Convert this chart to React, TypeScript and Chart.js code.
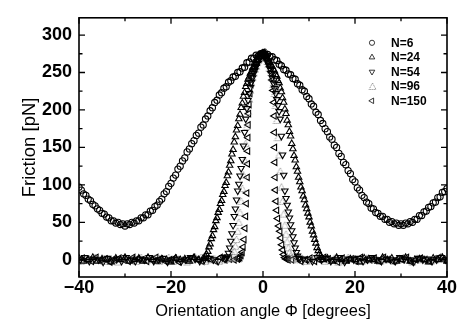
import React, { useEffect, useRef } from 'react';
import { Chart, registerables } from 'chart.js';

Chart.register(...registerables);

// ---------------- data ----------------
const seriesNames = ['N=6', 'N=24', 'N=54', 'N=96', 'N=150'];

const anglesN6 = [
  -40, -39.5, -39, -38.5, -38, -37.5, -37, -36.5, -36, -35.5,
  -35, -34.5, -34, -33.5, -33, -32.5, -32, -31.5, -31, -30.5,
  -30, -29.5, -29, -28.5, -28, -27.5, -27, -26.5, -26, -25.5,
  -25, -24.5, -24, -23.5, -23, -22.5, -22, -21.5, -21, -20.5,
  -20, -19.5, -19, -18.5, -18, -17.5, -17, -16.5, -16, -15.5,
  -15, -14.5, -14, -13.5, -13, -12.5, -12, -11.5, -11, -10.5,
  -10, -9.5, -9, -8.5, -8, -7.5, -7, -6.5, -6, -5.5,
  -5, -4.5, -4, -3.5, -3, -2.5, -2, -1.5, -1, -0.5,
  0,
  0.5, 1, 1.5, 2, 2.5, 3, 3.5, 4, 4.5, 5,
  5.5, 6, 6.5, 7, 7.5, 8, 8.5, 9, 9.5, 10,
  10.5, 11, 11.5, 12, 12.5, 13, 13.5, 14, 14.5, 15,
  15.5, 16, 16.5, 17, 17.5, 18, 18.5, 19, 19.5, 20,
  20.5, 21, 21.5, 22, 22.5, 23, 23.5, 24, 24.5, 25,
  25.5, 26, 26.5, 27, 27.5, 28, 28.5, 29, 29.5, 30,
  30.5, 31, 31.5, 32, 32.5, 33, 33.5, 34, 34.5, 35,
  35.5, 36, 36.5, 37, 37.5, 38, 38.5, 39, 39.5, 40,
];
const frictionN6 = [
  97, 93, 88, 86, 81, 79, 74, 72, 68, 66,
  62, 61, 57, 56, 52, 52, 49, 50, 47, 48,
  45, 48, 47, 50, 49, 52, 52, 56, 56, 60,
  60, 65, 66, 71, 73, 78, 81, 88, 91, 98,
  102, 109, 113, 121, 125, 132, 136, 144, 148, 155,
  159, 166, 169, 177, 180, 188, 192, 199, 203, 210,
  213, 220, 223, 229, 231, 237, 239, 244, 245, 250,
  251, 256, 257, 263, 264, 269, 269, 273, 272, 275,
  276,
  273, 274, 271, 271, 267, 266, 261, 259, 254, 253,
  248, 247, 242, 241, 235, 233, 227, 225, 218, 215,
  208, 205, 197, 194, 186, 182, 175, 171, 164, 161,
  153, 150, 142, 138, 130, 127, 119, 115, 107, 104,
  96, 93, 86, 83, 77, 75, 69, 68, 63, 62,
  58, 58, 54, 54, 50, 51, 48, 49, 46, 48,
  46, 49, 48, 51, 50, 54, 54, 59, 59, 64,
  65, 70, 71, 76, 77, 83, 84, 90, 91, 95,
];

const anglesN24 = [
  -40, -39, -38, -37, -36, -35, -34, -33, -32, -31, -30, -29, -28, -27,
  -26, -25, -24, -23, -22, -21, -20, -19, -18, -17, -16, -15, -14, -13,
  -12.75, -12.5, -12.25, -12, -11.75, -11.5, -11.25, -11, -10.75, -10.5,
  -10.25, -10, -9.75, -9.5, -9.25, -9, -8.75, -8.5, -8.25, -8,
  -7.75, -7.5, -7.25, -7, -6.75, -6.5, -6.25, -6, -5.75, -5.5,
  -5.25, -5, -4.75, -4.5, -4.25, -4, -3.75, -3.5, -3.25, -3,
  -2.75, -2.5, -2.25, -2, -1.75, -1.5, -1.25, -1, -0.75, -0.5,
  -0.25, 0,
  0.25, 0.5, 0.75, 1, 1.25, 1.5, 1.75, 2, 2.25, 2.5,
  2.75, 3, 3.25, 3.5, 3.75, 4, 4.25, 4.5, 4.75, 5,
  5.25, 5.5, 5.75, 6, 6.25, 6.5, 6.75, 7, 7.25, 7.5,
  7.75, 8, 8.25, 8.5, 8.75, 9, 9.25, 9.5, 9.75, 10,
  10.25, 10.5, 10.75, 11, 11.25, 11.5, 11.75, 12, 12.25, 12.5,
  12.75,
  13, 14, 15, 16, 17, 18, 19, 20, 21, 22, 23, 24, 25, 26,
  27, 28, 29, 30, 31, 32, 33, 34, 35, 36, 37, 38, 39, 40,
];
const frictionN24 = [
  2, -2, 0, 3, -2, 1, 0, -3, 2, 0, 3, -2, 0, 2,
  -2, 3, 0, -2, 1, 0, -3, 2, 0, 1, -2, 3, 0, 2,
  2, 4, 7, 11, 17, 21, 28, 32, 40, 44,
  52, 56, 63, 67, 75, 79, 87, 91, 99, 103,
  112, 117, 126, 132, 141, 147, 157, 164, 173, 179,
  188, 194, 203, 209, 218, 223, 231, 235, 241, 244,
  249, 251, 256, 257, 261, 262, 266, 267, 271, 271,
  274, 276,
  273, 272, 269, 268, 264, 263, 259, 258, 254, 252,
  247, 245, 239, 236, 229, 224, 216, 210, 201, 195,
  186, 180, 171, 165, 155, 148, 139, 133, 124, 118,
  110, 104, 97, 92, 85, 80, 73, 68, 62, 57,
  50, 45, 38, 33, 27, 22, 16, 12, 8, 5,
  3,
  0, 2, -2, 3, 0, -2, 1, 0, -3, 2, 1, 0, -2, 3,
  0, 2, -2, 0, 3, -2, 0, 1, 0, -3, 2, 0, 3, -2,
];

const anglesN54 = [
  -39.75, -38.75, -37.75, -36.75, -35.75, -34.75, -33.75, -32.75,
  -31.75, -30.75, -29.75, -28.75, -27.75, -26.75, -25.75, -24.75,
  -23.75, -22.75, -21.75, -20.75, -19.75, -18.75, -17.75, -16.75,
  -15.75, -14.75, -13.75, -12.75, -11.75, -10.75, -9.75, -8.75,
  -8.25, -8, -7.75, -7.5, -7.25, -7, -6.75, -6.5, -6.25, -6,
  -5.75, -5.5, -5.25, -5, -4.75, -4.5, -4.25, -4, -3.75, -3.5,
  -3.25, -3, -2.75, -2.5, -2.25, -2, -1.75, -1.5, -1.25, -1,
  -0.75, -0.5, -0.25, 0,
  0.25, 0.5, 0.75, 1, 1.25, 1.5, 1.75, 2, 2.25, 2.5,
  2.75, 3, 3.25, 3.5, 3.75, 4, 4.25, 4.5, 4.75, 5,
  5.25, 5.5, 5.75, 6, 6.25, 6.5, 6.75, 7, 7.25, 7.5,
  7.75, 8,
  8.75, 9.75, 10.75, 11.75, 12.75, 13.75, 14.75, 15.75,
  16.75, 17.75, 18.75, 19.75, 20.75, 21.75, 22.75, 23.75,
  24.75, 25.75, 26.75, 27.75, 28.75, 29.75, 30.75, 31.75,
  32.75, 33.75, 34.75, 35.75, 36.75, 37.75, 38.75, 39.75,
];
const frictionN54 = [
  0, 3, -2, 1, 0, -3, 2, 0,
  1, -2, 3, 0, -2, 1, 0, 3,
  -2, 0, 2, -3, 0, 1, -2, 0,
  3, 1, -2, 0, 2, 0, -2, 3,
  1, 2, 4, 9, 16, 25, 35, 46, 58, 68,
  80, 92, 101, 112, 122, 134, 152, 170, 188, 202,
  213, 222, 230, 237, 243, 249, 253, 258, 262, 266,
  269, 272, 274, 275,
  274, 271, 268, 264, 260, 255, 249, 243, 236, 229,
  222, 214, 206, 198, 188, 165, 140, 113, 92, 82,
  73, 64, 56, 47, 39, 31, 23, 16, 10, 5,
  2, 1,
  1, 0, -2, 3, 0, 2, -2, 0,
  3, -3, 1, 0, 2, -2, 0, 3,
  0, -2, 1, 0, -2, 3, 1, 0,
  -3, 2, 0, 1, -2, 0, 3, 0,
];

const anglesN96 = [
  -39.5, -38.5, -37.5, -36.5, -35.5, -34.5, -33.5, -32.5, -31.5, -30.5, -29.5,
  -28.5, -27.5, -26.5, -25.5, -24.5, -23.5, -22.5, -21.5, -20.5, -19.5, -18.5,
  -17.5, -16.5, -15.5, -14.5, -13.5, -12.5, -11.5, -10.5, -9.5, -8.5, -7.5,
  -7, -6.75, -6.5, -6.25, -6, -5.75, -5.5, -5.25, -5, -4.75,
  -4.5, -4.25, -4, -3.75, -3.5, -3.25, -3, -2.75, -2.5, -2.25,
  -2, -1.75, -1.5, -1.25, -1, -0.75, -0.5, -0.25, 0,
  0.25, 0.5, 0.75, 1, 1.25, 1.5, 1.75, 2, 2.25, 2.5,
  2.75, 3, 3.25, 3.5, 3.75, 4, 4.25, 4.5, 4.75, 5,
  5.25, 5.5, 5.75, 6, 6.25, 6.5,
  7.5, 8.5, 9.5, 10.5, 11.5, 12.5, 13.5, 14.5, 15.5, 16.5, 17.5,
  18.5, 19.5, 20.5, 21.5, 22.5, 23.5, 24.5, 25.5, 26.5, 27.5, 28.5,
  29.5, 30.5, 31.5, 32.5, 33.5, 34.5, 35.5, 36.5, 37.5, 38.5, 39.5,
];
const frictionN96 = [
  -2, 1, 0, 3, 0, -2, 1, 0, -3, 2, 0,
  1, -2, 3, 0, 0, 2, -2, 0, 3, -2, 1,
  0, -3, 0, 2, 3, -2, 0, 1, -2, 0, 2,
  1, 3, 6, 11, 18, 27, 38, 50, 63, 78,
  95, 113, 133, 155, 178, 198, 214, 226, 236, 243,
  249, 254, 258, 263, 266, 269, 272, 274, 276,
  275, 272, 269, 265, 261, 256, 250, 243, 234, 222,
  206, 186, 163, 140, 118, 97, 78, 61, 46, 34,
  24, 16, 10, 5, 2, 1,
  0, 2, -2, 0, 3, 1, -2, 0, 2, -3, 0,
  3, 1, 0, -2, 2, 0, 3, -2, 0, 1, -2,
  0, 3, 0, -3, 2, 0, 1, -2, 0, 3, 1,
];

const anglesN150 = [
  -39.25, -38.25, -37.25, -36.25, -35.25, -34.25, -33.25, -32.25, -31.25,
  -30.25, -29.25, -28.25, -27.25, -26.25, -25.25, -24.25, -23.25,
  -22.25, -21.25, -20.25, -19.25, -18.25, -17.25, -16.25, -15.25,
  -14.25, -13.25, -12.25, -11.25, -10.25, -9.25, -8.25, -7.25, -6.25,
  -5.5, -5.25, -5, -4.75, -4.5, -4.3, -4.1, -3.9, -3.75, -3.6,
  -3.5, -3.4, -3.35, -3.3, -3.25, -3.2, -3.1, -3.0, -2.8, -2.6,
  -2.4, -2.2, -2.0, -1.75, -1.5, -1.25, -1.0, -0.75, -0.5, -0.25,
  0, 0.25, 0.5, 0.75, 1.0, 1.25, 1.5, 1.75, 2.0, 2.2,
  2.35, 2.45, 2.5, 2.55, 2.6, 2.65, 2.7, 2.85, 3.0, 3.2,
  3.45, 3.7, 3.9, 4.1, 4.3, 4.5, 4.75, 5.0, 5.25, 5.5,
  6.25, 7.25, 8.25, 9.25, 10.25, 11.25, 12.25, 13.25, 14.25,
  15.25, 16.25, 17.25, 18.25, 19.25, 20.25, 21.25, 22.25,
  23.25, 24.25, 25.25, 26.25, 27.25, 28.25, 29.25, 30.25,
  31.25, 32.25, 33.25, 34.25, 35.25, 36.25, 37.25, 38.25, 39.25,
];
const frictionN150 = [
  2, 0, -2, 3, 0, 1, -3, 0, 2,
  0, -2, 3, 1, 0, -2, 0, 3,
  1, -2, 0, 2, -3, 0, 1, 3,
  0, -2, 2, 0, -2, 3, 0, 1, 0,
  1, 2, 3, 6, 10, 17, 27, 42, 58, 75,
  89, 110, 128, 145, 163, 180, 195, 207, 222, 234,
  243, 250, 255, 260, 264, 267, 270, 273, 275, 276,
  277, 276, 274, 271, 268, 264, 258, 251, 240, 226,
  210, 192, 170, 150, 130, 110, 93, 78, 66, 55,
  45, 38, 29, 20, 13, 7, 3, 1, 1, 0,
  0, 3, -2, 0, 2, -2, 0, 3, 1,
  0, -3, 2, 0, 1, -2, 3, 0,
  0, 2, -2, 3, 0, -2, 1, 0,
  3, -3, 0, 2, 0, -2, 1, 3, 0,
];

// ---------------- helpers ----------------
const FONT = '"Liberation Sans", Arial, Helvetica, sans-serif';

function toPoints(xs: number[], ys: number[]) {
  const n = Math.min(xs.length, ys.length);
  const out: { x: number; y: number }[] = [];
  for (let i = 0; i < n; i++) out.push({ x: xs[i], y: ys[i] });
  return out;
}

function makeDottedTriangle(): HTMLCanvasElement {
  const c = document.createElement('canvas');
  c.width = 9;
  c.height = 9;
  const g = c.getContext('2d')!;
  g.strokeStyle = '#7a7a7a';
  g.lineWidth = 1;
  g.setLineDash([1, 1]);
  g.beginPath();
  g.moveTo(4.5, 1);
  g.lineTo(8, 7.5);
  g.lineTo(1, 7.5);
  g.closePath();
  g.stroke();
  return c;
}

type MarkerKind = { style: 'circle' | 'triangle' | 'image'; rotation: number };
const markerKinds: MarkerKind[] = [
  { style: 'circle', rotation: 0 },
  { style: 'triangle', rotation: 0 },
  { style: 'triangle', rotation: 180 },
  { style: 'image', rotation: 0 },
  { style: 'triangle', rotation: 270 },
];

function drawLegendMarker(ctx: CanvasRenderingContext2D, kind: MarkerKind, x: number, y: number, r: number, img: HTMLCanvasElement) {
  if (kind.style === 'image') {
    ctx.drawImage(img, Math.round(x - img.width / 2), Math.round(y - img.height / 2));
    return;
  }
  ctx.beginPath();
  if (kind.style === 'circle') {
    ctx.arc(x, y, r, 0, Math.PI * 2);
  } else {
    const base = (kind.rotation * Math.PI) / 180;
    for (let k = 0; k < 3; k++) {
      const a = base + (k * 2 * Math.PI) / 3;
      const px = x + Math.sin(a) * r;
      const py = y - Math.cos(a) * r;
      if (k === 0) ctx.moveTo(px, py);
      else ctx.lineTo(px, py);
    }
    ctx.closePath();
  }
  ctx.stroke();
}

export default function App() {
  const canvasRef = useRef<HTMLCanvasElement>(null);

  useEffect(() => {
    document.body.style.margin = '0';
    const canvas = canvasRef.current;
    if (!canvas) return;
    const dotted = makeDottedTriangle();

    const framePlugin = {
      id: 'frameTicks',
      afterDatasetsDraw(chart: any) {
        const { ctx, chartArea } = chart;
        const { left, right, top, bottom } = chartArea;
        const xs = chart.scales.x;
        const ys = chart.scales.y;
        ctx.save();
        ctx.strokeStyle = '#000';
        ctx.lineWidth = 1.6;
        ctx.strokeRect(left, top, right - left, bottom - top);
        ctx.lineWidth = 1.3;
        ctx.beginPath();
        const xv: number[] = xs.ticks.map((t: any) => t.value);
        xv.forEach((v, i) => {
          const p = xs.getPixelForValue(v);
          ctx.moveTo(p, bottom); ctx.lineTo(p, bottom - 6);
          ctx.moveTo(p, top); ctx.lineTo(p, top + 6);
          if (i < xv.length - 1) {
            const m = xs.getPixelForValue((v + xv[i + 1]) / 2);
            ctx.moveTo(m, bottom); ctx.lineTo(m, bottom - 3.5);
            ctx.moveTo(m, top); ctx.lineTo(m, top + 3.5);
          }
        });
        const yv: number[] = ys.ticks.map((t: any) => t.value);
        yv.forEach((v, i) => {
          const p = ys.getPixelForValue(v);
          ctx.moveTo(left, p); ctx.lineTo(left + 6, p);
          ctx.moveTo(right, p); ctx.lineTo(right - 6, p);
          if (i < yv.length - 1) {
            const m = ys.getPixelForValue((v + yv[i + 1]) / 2);
            ctx.moveTo(left, m); ctx.lineTo(left + 3.5, m);
            ctx.moveTo(right, m); ctx.lineTo(right - 3.5, m);
          }
        });
        ctx.stroke();
        ctx.restore();
      },
    };

    const legendPlugin = {
      id: 'insideLegend',
      afterDraw(chart: any) {
        const { ctx, chartArea } = chart;
        const mx = chartArea.right - 75;
        const tx = chartArea.right - 56;
        ctx.save();
        ctx.strokeStyle = '#222';
        ctx.lineWidth = 0.9;
        ctx.fillStyle = '#000';
        ctx.font = `bold 12px ${FONT}`;
        ctx.textBaseline = 'middle';
        ctx.textAlign = 'left';
        seriesNames.forEach((name, i) => {
          const cy = chartArea.top + 25 + i * 14.5;
          drawLegendMarker(ctx, markerKinds[i], mx, cy, i === 0 ? 2.6 : 3.2, dotted);
          ctx.fillText(name, tx, cy + 0.5);
        });
        ctx.restore();
      },
    };

    const common = {
      showLine: false,
      pointBorderColor: '#000',
      pointBackgroundColor: 'rgba(0,0,0,0)',
      pointBorderWidth: 1.1,
    };

    const chart = new Chart(canvas, {
      type: 'scatter',
      data: {
        datasets: [
          { ...common, label: seriesNames[0], data: toPoints(anglesN6, frictionN6), pointStyle: 'circle', pointRadius: 3.1 },
          { ...common, label: seriesNames[1], data: toPoints(anglesN24, frictionN24), pointStyle: 'triangle', pointRadius: 3.7, pointRotation: 0 },
          { ...common, label: seriesNames[2], data: toPoints(anglesN54, frictionN54), pointStyle: 'triangle', pointRadius: 3.7, pointRotation: 180 },
          { ...common, label: seriesNames[3], data: toPoints(anglesN96, frictionN96), pointStyle: dotted, pointRadius: 4 },
          { ...common, label: seriesNames[4], data: toPoints(anglesN150, frictionN150), pointStyle: 'triangle', pointRadius: 3.7, pointRotation: 270 },
        ] as any,
      },
      options: {
        animation: false,
        responsive: false,
        devicePixelRatio: 1,
        layout: { padding: { left: 0, right: 11, top: 5, bottom: 0 } },
        plugins: {
          legend: { display: false },
          tooltip: { enabled: false },
        },
        scales: {
          x: {
            type: 'linear',
            min: -40,
            max: 40,
            grid: { display: false, drawTicks: false },
            border: { display: false },
            ticks: {
              stepSize: 20,
              includeBounds: false,
              padding: 0,
              maxRotation: 0,
              color: '#000',
              font: { family: FONT, size: 18, weight: 'bold' },
              callback: (v: any) => String(v).replace('-', '\u2212'),
            },
            title: {
              display: true,
              text: 'Orientation angle \u03A6 [degrees]',
              color: '#000',
              font: { family: FONT, size: 16.4 },
              padding: { top: 0, bottom: 13 },
            },
            afterFit: (s: any) => { s.height = 57; },
          },
          y: {
            type: 'linear',
            min: -23,
            max: 323,
            grid: { display: false, drawTicks: false },
            border: { display: false },
            ticks: {
              stepSize: 50,
              includeBounds: false,
              padding: 7,
              color: '#000',
              font: { family: FONT, size: 18, weight: 'bold' },
            },
            title: {
              display: true,
              text: 'Friction [pN]',
              color: '#000',
              font: { family: FONT, size: 18.5 },
              padding: { top: 19, bottom: 0 },
            },
            afterFit: (s: any) => { s.width = 79; },
          },
        },
      } as any,
      plugins: [framePlugin, legendPlugin],
    });
    return () => chart.destroy();
  }, []);

  return (
    <div style={{ width: 458, height: 334 }}>
      <canvas ref={canvasRef} width={458} height={334} style={{ display: 'block', width: 458, height: 334 }} />
    </div>
  );
}
